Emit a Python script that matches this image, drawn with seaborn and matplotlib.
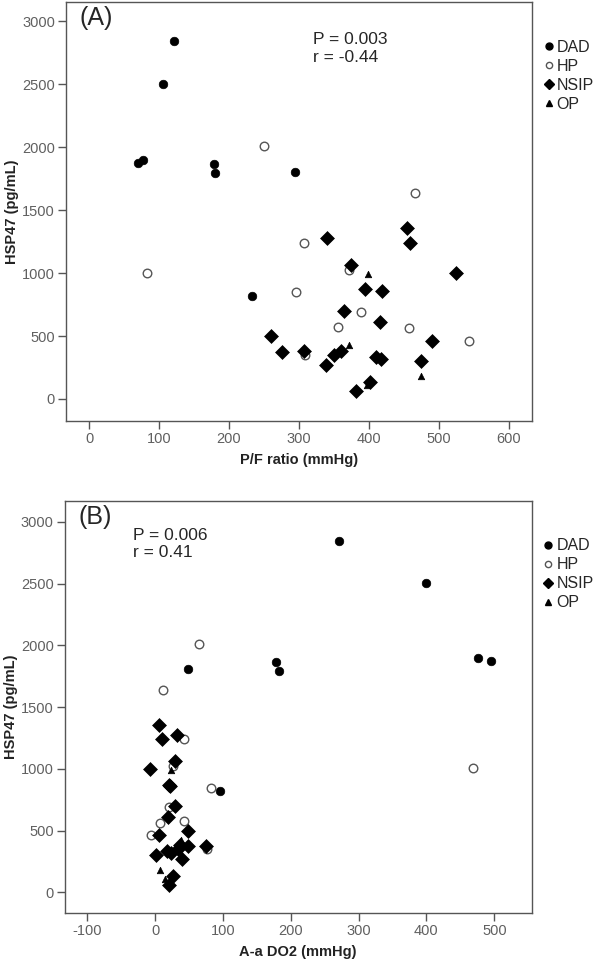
import pandas as pd
import numpy as np
import seaborn as sns
import matplotlib.pyplot as plt
from matplotlib.lines import Line2D

sns.set_style("white")
plt.rcParams['font.family'] = ['Liberation Sans', 'DejaVu Sans']
plt.rcParams['axes.unicode_minus'] = False

# HSP47 values (pg/mL) with the P/F ratio and A-a DO2 of the same patient
dad_hsp = [2843, 2501, 1897, 1874, 1863, 1791, 1805, 817]
dad_pf = [122, 106, 77, 70, 179, 180, 294, 233]
dad_aa = [271, 399, 476, 495, 179, 182, 48, 96]

hp_hsp = [2012, 1634, 1238, 1023, 1004, 848, 691, 574, 561, 461, 348]
hp_pf = [250, 466, 307, 372, 83, 295, 389, 356, 457, 543, 308]
hp_aa = [65, 11, 42, 26, 468, 82, 20, 42, 7, -6, 77]

nsip_hsp = [1355, 1275, 1240, 1063, 998, 870, 857, 697, 611, 497, 461,
            383, 378, 373, 352, 335, 320, 302, 272, 135, 62]
nsip_pf = [454, 340, 459, 374, 524, 394, 418, 365, 416, 260, 490,
           360, 307, 276, 350, 410, 417, 474, 338, 401, 382]
nsip_aa = [6, 32, 10, 30, -8, 20, 22, 29, 19, 49, 6,
           37, 75, 48, 34, 17, 24, 2, 40, 27, 21]

op_hsp = [989, 425, 184, 110]
op_pf = [399, 371, 475, 397]
op_aa = [24, 38, 8, 14]

groups = ["DAD", "HP", "NSIP", "OP"]
stats_a = ["P = 0.003", "r = -0.44"]
stats_b = ["P = 0.006", "r = 0.41"]

frames = []
for g, h, pf, aa in [("DAD", dad_hsp, dad_pf, dad_aa), ("HP", hp_hsp, hp_pf, hp_aa),
                     ("NSIP", nsip_hsp, nsip_pf, nsip_aa), ("OP", op_hsp, op_pf, op_aa)]:
    frames.append(pd.DataFrame({"group": g, "hsp": h, "pf": pf, "aa": aa}))
df = pd.concat(frames, ignore_index=True)

# marker look per group: (marker, size, face, edge)
look = {
    "DAD": ("o", 38, "black", "black"),
    "HP": ("o", 38, "white", "#555555"),
    "NSIP": ("D", 50, "black", "black"),
    "OP": ("^", 22, "black", "black"),
}
leg_look = {
    "DAD": ("o", 5, "black", "black"),
    "HP": ("o", 4.5, "white", "#555555"),
    "NSIP": ("D", 5.5, "black", "black"),
    "OP": ("^", 4, "black", "black"),
}

fig = plt.figure(figsize=(6, 9.63), dpi=100)
ax1 = fig.add_axes([0.11, 0.5628, 0.7767, 0.435])
ax2 = fig.add_axes([0.108, 0.0524, 0.778, 0.4273])

edge_col = "#555555"
tick_col = "#606060"

def draw(ax, xcol, xlabel, xlim, ylim, xticks, tag, stats, stat_pos):
    for g in groups:
        m, s, fc, ec = look[g]
        sub = df[df.group == g]
        sns.scatterplot(data=sub, x=xcol, y="hsp", ax=ax, marker=m, s=s,
                        color=fc, edgecolor=ec, linewidth=1.0 if g == "HP" else 0.5,
                        legend=False, zorder=3)
    ax.set_xlim(*xlim)
    ax.set_ylim(*ylim)
    ax.set_xticks(xticks)
    ax.set_yticks(range(0, 3001, 500))
    for sp in ["top", "right", "left", "bottom"]:
        ax.spines[sp].set_color(edge_col)
        ax.spines[sp].set_linewidth(1.0)
    ax.tick_params(axis="both", direction="out", length=6, width=1, color=edge_col,
                   labelcolor=tick_col, labelsize=10.5, pad=2, left=True, bottom=True)
    ax.set_xlabel(xlabel, fontsize=10.5, fontweight="bold", color="#222222", labelpad=5)
    ax.set_ylabel("HSP47 (pg/mL)", fontsize=10.5, fontweight="bold", color="#222222", labelpad=2)
    ax.text(0.03, 0.99, tag, transform=ax.transAxes, fontsize=18, va="top", ha="left")
    ax.text(stat_pos[0], stat_pos[1], stats[0] + "\n" + stats[1], transform=ax.transAxes,
            fontsize=12.5, va="top", ha="left", linespacing=1.2)
    handles = []
    for g in groups:
        m, s, fc, ec = leg_look[g]
        handles.append(Line2D([], [], linestyle="none", marker=m, markersize=s,
                              markerfacecolor=fc, markeredgecolor=ec, label=g))
    ax.legend(handles=handles, loc="upper left", bbox_to_anchor=(1.005, 0.925),
              frameon=False, fontsize=11.5, handletextpad=0.0, labelspacing=0.25,
              handlelength=1.0, borderaxespad=0.0)

draw(ax1, "pf", "P/F ratio (mmHg)", (-33, 633), (-175, 3151),
     range(0, 601, 100), "(A)", stats_a, (0.53, 0.928))
draw(ax2, "aa", "A-a DO2 (mmHg)", (-133, 555), (-164, 3168),
     range(-100, 501, 100), "(B)", stats_b, (0.147, 0.935))

plt.savefig("out.png", dpi=100)
